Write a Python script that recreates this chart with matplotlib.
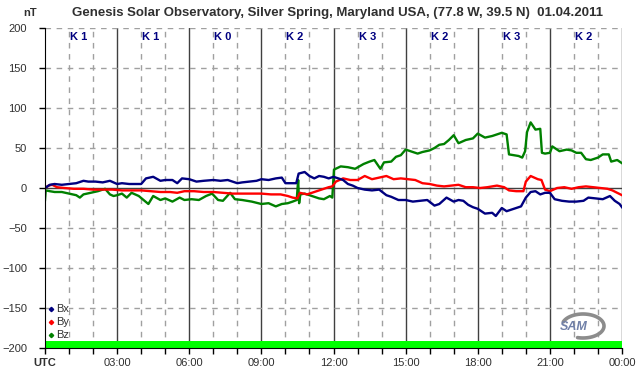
# coding: utf-8
import matplotlib
matplotlib.use('Agg')
import matplotlib.pyplot as plt
import numpy as np

plt.rcParams['font.family'] = ['Liberation Sans', 'DejaVu Sans']

# --- data (time in hours UTC, field in nT) ---
bx_t = [0, 0.2, 0.4, 0.7, 1.0, 1.3, 1.6, 1.8, 2.1, 2.4,
        2.7, 3.0, 3.2, 3.5, 3.8, 4.0, 4.2, 4.5, 4.8, 5.0,
        5.3, 5.5, 5.7, 6.0, 6.3, 6.6, 7.0, 7.3, 7.6, 8.0,
        8.2, 8.5, 8.8, 9.0, 9.3, 9.6, 9.85, 10.0, 10.2, 10.45,
        10.55, 10.8, 11.0, 11.2, 11.4, 11.6, 11.8, 12.0, 12.2, 12.4,
        12.6, 12.8, 13.0, 13.3, 13.6, 13.9, 14.2, 14.4, 14.7, 15.0,
        15.3, 15.6, 15.9, 16.2, 16.4, 16.7, 17.0, 17.2, 17.4, 17.6,
        17.8, 18.0, 18.3, 18.6, 18.75, 19.0, 19.2, 19.5, 19.8, 20.0,
        20.2, 20.4, 20.6, 20.8, 21.0, 21.2, 21.5, 21.8, 22.1, 22.4,
        22.6, 22.9, 23.2, 23.5, 23.7, 23.9, 24.0]
bx_v = [0, 4, 5, 4, 5, 6, 9, 8, 8, 7,
        9, 5, 6, 5, 5, 5, 12, 14, 9, 10,
        10, 6, 12, 11, 8, 9, 10, 9, 10, 6,
        7, 8, 9, 11, 10, 12, 13, 6, 6, 6,
        18, 20, 15, 12, 15, 14, 12, 14, 12, 10,
        5, 3, 0, -2, -3, -2, -9, -11, -15, -15,
        -17, -16, -15, -22, -20, -12, -17, -15, -16, -21,
        -24, -26, -32, -31, -35, -25, -29, -26, -23, -12,
        -5, -4, -8, -6, -6, -14, -16, -17, -17, -16,
        -12, -13, -14, -10, -16, -20, -24]

by_t = [0, 0.15, 0.3, 0.5, 0.8, 1.2, 1.6, 2.0, 2.4, 2.8,
        3.2, 3.6, 4.0, 4.4, 4.8, 5.2, 5.5, 5.8, 6.2, 6.6,
        7.0, 7.4, 7.8, 8.2, 8.6, 9.0, 9.4, 9.8, 10.1, 10.3,
        10.5, 10.6, 10.9, 11.2, 11.5, 11.8, 11.95, 12.1, 12.4, 12.7,
        13.0, 13.3, 13.6, 13.9, 14.2, 14.5, 14.8, 15.1, 15.4, 15.7,
        16.0, 16.3, 16.6, 16.9, 17.2, 17.5, 17.8, 18.1, 18.4, 18.8,
        19.1, 19.3, 19.6, 19.9, 20.0, 20.2, 20.5, 20.65, 20.8, 21.0,
        21.3, 21.6, 21.9, 22.2, 22.5, 22.8, 23.1, 23.4, 23.6, 23.8,
        24.0]
by_v = [0, 3, 4, 1, 0, -1, -1, -2, -2, -2,
        -3, -3, -3, -4, -5, -5, -6, -4, -4, -5,
        -5, -6, -7, -7, -7, -7, -8, -8, -10, -12,
        -13, -6, -8, -5, -2, 1, 2, 8, 12, 10,
        10, 15, 11, 13, 15, 11, 12, 11, 10, 6,
        5, 3, 2, 3, 4, 1, 1, 0, 1, 3,
        1, -3, -4, -4, 8, 15, 11, 10, -2, -4,
        0, 1, -1, 1, 2, 1, 0, -1, -3, -6,
        -9]

bz_t = [0, 0.03, 0.2, 0.4, 0.7, 1.0, 1.3, 1.45, 1.6, 1.9,
        2.2, 2.5, 2.7, 2.85, 3.0, 3.2, 3.4, 3.6, 3.9, 4.1,
        4.3, 4.5, 4.8, 5.0, 5.3, 5.6, 5.8, 6.1, 6.4, 6.7,
        6.95, 7.2, 7.4, 7.7, 7.9, 8.2, 8.6, 9.0, 9.3, 9.6,
        9.85, 10.1, 10.3, 10.47, 10.53, 10.57, 10.62, 10.8, 11.1, 11.4,
        11.6, 11.85, 11.95, 12.02, 12.3, 12.6, 12.9, 13.25, 13.5, 13.7,
        13.95, 14.1, 14.4, 14.6, 14.8, 15.0, 15.3, 15.5, 15.7, 16.0,
        16.2, 16.4, 16.6, 16.8, 17.0, 17.2, 17.5, 17.8, 18.0, 18.3,
        18.6, 19.0, 19.2, 19.3, 19.5, 19.7, 19.85, 19.97, 20.05, 20.2,
        20.4, 20.6, 20.67, 20.8, 21.0, 21.1, 21.4, 21.7, 21.9, 22.1,
        22.3, 22.5, 22.7, 23.0, 23.2, 23.45, 23.55, 23.8, 24.0]
bz_v = [-15, -3, -4, -5, -5, -7, -9, -12, -8, -6,
        -4, -1, -8, -10, -9, -7, -12, -6, -10, -15,
        -20, -10, -15, -13, -17, -12, -15, -14, -15, -10,
        -7, -15, -16, -6, -14, -15, -17, -20, -19, -23,
        -20, -19, -17, -15, 10, -19, -8, -7, -10, -13,
        -14, -10, -12, 23, 27, 26, 24, 30, 33, 35,
        24, 32, 33, 39, 41, 48, 45, 43, 45, 47,
        50, 54, 55, 60, 66, 56, 60, 62, 68, 63,
        65, 69, 67, 42, 41, 40, 38, 46, 70, 82,
        73, 74, 44, 43, 44, 52, 46, 48, 47, 44,
        44, 36, 35, 38, 42, 42, 33, 35, 31]

k_index = [1, 1, 0, 2, 3, 2, 3, 2]
hour_labels = ['UTC', '03:00', '06:00', '09:00', '12:00',
               '15:00', '18:00', '21:00', '00:00']

title = 'Genesis Solar Observatory, Silver Spring, Maryland USA, (77.8 W, 39.5 N)  01.04.2011'


def px_to_axes(px, py):
    """Figure pixel position (from top-left) to axes fraction."""
    return (px - 45) / 577.0, (348 - py) / 320.0


def main():
    fig = plt.figure(figsize=(6.42, 3.76), dpi=100)
    ax = fig.add_axes([45 / 642, 28 / 376, 577 / 642, 320 / 376])

    ax.set_xlim(0, 24)
    ax.set_ylim(-200, 200)

    # grid: dashed every hour / 50 nT, solid every 3 h and at zero
    for h in range(1, 25):
        if h % 3 == 0:
            ax.axvline(h, color='#404040', lw=1.0, zorder=1)
        else:
            ax.axvline(h, color='#a0a0a0', lw=1.0, ls=(0, (4, 4)), zorder=1)
    for v in range(-150, 201, 50):
        if v == 0:
            ax.axhline(v, color='#404040', lw=1.0, zorder=1)
        else:
            ax.axhline(v, color='#a0a0a0', lw=1.0, ls=(0, (4, 4)), zorder=1)

    # green band at the bottom
    ax.axhspan(-200, -191, color='#00ff00', lw=0, zorder=2)

    ax.plot(bz_t, bz_v, color='#008000', lw=1.7, zorder=3)
    ax.plot(by_t, by_v, color='#ff0000', lw=1.7, zorder=4)
    ax.plot(bx_t, bx_v, color='#000080', lw=1.7, zorder=5)

    for i, k in enumerate(k_index):
        ax.text(3 * i + 1.4, 189, 'K %d' % k, color='#000080', fontsize=8,
                fontweight='bold', ha='center', va='center', zorder=6)

    # legend
    for y, name, c in [(0.122, 'Bx', '#000080'), (0.081, 'By', '#ff0000'),
                       (0.041, 'Bz', '#008000')]:
        ax.plot([0.011], [y], marker='D', ms=2.2, color=c, mec=c,
                transform=ax.transAxes, zorder=6, clip_on=False)
        ax.text(0.019, y, name, color='#303030', fontsize=8, va='center',
                ha='left', transform=ax.transAxes, zorder=6,
                bbox=dict(fc='white', ec='none', pad=0.3))

    # SAM logo: swoosh + lettering
    ang = np.radians(np.linspace(160, -105, 60))
    sx, sy = px_to_axes(583 + 21 * np.cos(ang), 326 - 12 * np.sin(ang))
    ax.plot(sx, sy, color='#8c8c8c', lw=2.6, solid_capstyle='round',
            transform=ax.transAxes, zorder=6)
    tx, ty = px_to_axes(574, 327)
    ax.text(tx, ty, 'SAM', color='#7080a8', fontsize=9, style='italic',
            fontweight='bold', ha='center', va='center', zorder=7,
            transform=ax.transAxes)

    # axes and ticks
    for s in ['top', 'right']:
        ax.spines[s].set_visible(False)
    ax.spines['left'].set_color('black')
    ax.spines['bottom'].set_color('black')
    ax.spines['left'].set_zorder(8)
    ax.spines['bottom'].set_zorder(8)

    ax.set_xticks(range(0, 25, 3))
    ax.set_xticks(range(0, 25), minor=True)
    ax.set_xticklabels(hour_labels)
    ax.set_yticks(range(-200, 201, 50))
    ax.tick_params(axis='both', direction='out', length=4, width=1,
                   labelsize=8, labelcolor='#303030')
    ax.tick_params(axis='x', which='minor', length=4, width=1)
    ax.tick_params(axis='x', pad=3)
    ax.tick_params(axis='y', pad=9)
    ax.get_xticklabels()[0].set_fontweight('bold')

    fig.text(338 / 642, 1 - 13 / 376, title, ha='center', va='center',
             fontsize=9.5, fontweight='bold', color='#303030',
             family=['Liberation Sans Narrow', 'Liberation Sans'])
    fig.text(30 / 642, 1 - 13 / 376, 'nT', ha='center', va='center',
             fontsize=8, fontweight='bold', color='#303030')

    fig.savefig('out.png', dpi=100, facecolor='white')
    plt.close(fig)


if __name__ == '__main__':
    main()
